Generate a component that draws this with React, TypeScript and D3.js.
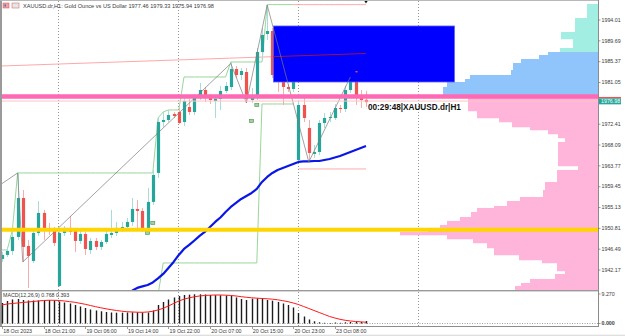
import React from 'react';
import * as d3 from 'd3';

// ---------- data (H1 XAUUSD.dr) ----------
const candleOpen = [1944.47,1945.30,1946.13,1949.03,1957.11,1947.16,1944.05,1949.86,1954.01,1950.69,1950.48,1938.87,1949.86,1950.90,1950.27,1948.20,1949.65,1946.33,1948.20,1946.96,1947.99,1949.44,1949.86,1950.69,1951.10,1952.14,1954.83,1954.42,1950.48,1956.29,1962.30,1972.87,1973.28,1974.53,1974.94,1972.87,1975.98,1974.94,1978.05,1979.50,1977.84,1977.22,1977.64,1979.30,1980.12,1983.86,1982.61,1983.23,1977.43,1978.05,1987.38,1991.11,1991.73,1983.03,1982.61,1980.12,1979.71,1964.99,1976.39,1971.63,1966.24,1966.65,1972.66,1973.70,1973.70,1975.77,1975.56,1979.50,1981.58,1977.84,1977.46];
const candleHigh = [1945.92,1946.96,1950.48,1962.30,1958.77,1948.41,1950.48,1956.49,1954.63,1951.93,1951.10,1950.27,1951.31,1953.38,1950.69,1950.27,1950.07,1948.82,1948.82,1948.41,1950.90,1954.63,1952.14,1952.14,1952.97,1957.11,1956.70,1955.04,1959.19,1962.92,1973.70,1974.94,1975.36,1974.94,1975.77,1978.47,1977.64,1978.67,1980.95,1980.12,1978.67,1978.47,1980.33,1981.16,1985.31,1984.48,1984.06,1984.06,1979.92,1988.21,1992.36,1996.92,1992.36,1983.65,1983.23,1980.75,1982.20,1977.43,1978.05,1973.28,1968.10,1973.28,1974.74,1974.94,1976.60,1976.39,1980.33,1982.20,1983.44,1979.50,1979.33];
const candleLow = [1943.85,1944.88,1945.30,1948.41,1943.85,1938.46,1943.64,1949.24,1948.41,1949.44,1947.16,1938.66,1949.24,1949.44,1945.92,1947.58,1945.30,1945.51,1946.33,1946.33,1947.58,1948.82,1949.24,1950.07,1950.69,1951.31,1950.48,1950.07,1950.07,1955.66,1961.26,1971.83,1972.87,1973.70,1972.45,1972.04,1974.32,1974.32,1977.43,1977.02,1976.60,1973.70,1975.36,1978.88,1979.50,1981.99,1981.58,1976.81,1976.81,1977.43,1986.14,1989.87,1981.99,1979.09,1976.39,1979.09,1979.09,1964.58,1972.87,1964.58,1965.41,1966.03,1971.63,1972.87,1973.28,1974.74,1974.94,1978.88,1976.39,1975.77,1975.94];
const candleClose = [1945.30,1946.13,1949.03,1957.11,1946.96,1945.09,1949.86,1954.01,1950.48,1950.27,1947.79,1949.86,1950.90,1950.07,1948.20,1949.65,1946.54,1948.20,1946.96,1947.99,1949.65,1949.86,1950.90,1951.10,1952.14,1954.83,1954.42,1950.48,1956.29,1961.88,1972.87,1973.28,1974.32,1974.11,1972.66,1977.22,1974.94,1978.05,1979.50,1978.05,1977.43,1977.64,1979.30,1980.33,1983.86,1982.61,1983.44,1977.64,1978.26,1987.38,1990.90,1991.73,1982.61,1982.61,1980.12,1979.71,1981.58,1976.39,1973.70,1966.44,1966.65,1972.66,1973.70,1973.91,1975.77,1975.56,1979.50,1981.58,1977.84,1977.43,1976.98];

// moving average (starts at bar 25)
const maStart = 25;
const maValues = [1937.9,1938.46,1938.77,1939.08,1939.60,1940.43,1941.36,1942.60,1943.85,1945.30,1946.54,1947.37,1948.30,1949.24,1950.07,1951.10,1952.14,1953.07,1954.21,1955.25,1956.08,1956.91,1957.53,1958.15,1958.98,1960.43,1961.47,1962.30,1962.92,1963.33,1963.75,1964.16,1964.58,1964.68,1964.68,1964.78,1964.78,1964.99,1965.20,1965.51,1965.82,1966.24,1966.65,1967.06,1967.48,1967.89];

// channel lines
const upperChannel = [1946.33,1946.33,1950.48,1962.30,1962.30,1962.30,1962.30,1962.30,1962.30,1962.30,1962.30,1962.30,1962.30,1962.30,1962.30,1962.30,1962.30,1962.30,1962.30,1962.30,1962.30,1962.30,1962.30,1962.30,1962.30,1962.30,1962.30,1962.30,1962.30,1962.30,1973.70,1974.94,1975.36,1975.36,1975.36,1982.20,1982.20,1982.20,1982.20,1982.20,1982.20,1982.20,1982.20,1982.20,1985.31,1985.31,1985.31,1985.31,1985.31,1985.31,1985.31,1997.20,1997.20,1997.20,1997.20,1997.20,1997.20,1997.20,1997.20,1997.20,1997.20,1997.20,1997.20,1997.20,1997.20,1997.20,1997.20,1997.20,1997.20,1997.20,1997.20];
const lowerChannel: (number | null)[] = [null,null,null,null,null,null,null,null,null,null,null,null,null,null,null,null,null,null,null,null,null,null,null,null,null,null,null,null,null,null,1937.0,1943.64,1943.64,1943.64,1943.64,1943.64,1943.64,1943.64,1943.64,1943.64,1943.64,1943.64,1943.64,1943.64,1943.64,1943.64,1943.64,1943.64,1943.64,1943.64,1976.60,1976.60,1976.60,1976.60,1976.60,1976.60,1976.60,1963.13,1963.13,1963.13,1963.13,1963.13,1963.13,1963.13,1963.13,1963.13,1963.13,1963.13,1963.13,1963.13,1963.13];
const channelSwitchBar = 56;

// zigzag pivots [bar, price]
const zigzagBars = [-0.4, 3, 4, 44, 47, 51, 59, 67];
const zigzagPrices = [1959.8, 1962.30, 1943.85, 1985.0, 1976.81, 1997.12, 1964.58, 1982.20];

// trend line
const trendBars = [0, 70];
const trendPrices = [1984.48, 1987.07];

// fractal markers
const markerBars = [28, 29, 48, 49];
const markerPrices = [1949.86, 1951.93, 1973.08, 1976.39];

// zone rectangle
const zoneBars = [52.2, 87];
const zonePrices = [1992.77, 1981.16];

// horizontal levels
const pinkLevel = 1978.16;
const bidLevel = 1977.2;
const yellowLevel = 1950.54;

// volume profile: bin top price, volume, zone
const profileTop = [1997.33,1994.43,1991.53,1990.08,1988.21,1987.38,1986.76,1985.93,1985.10,1983.65,1982.61,1981.78,1981.16,1980.12,1978.05,1975.15,1973.70,1972.87,1971.83,1971.21,1970.38,1969.55,1968.72,1963.75,1962.92,1960.43,1958.77,1957.32,1956.49,1955.46,1955.04,1954.21,1953.17,1952.35,1951.52,1950.90,1950.07,1949.44,1948.61,1947.79,1946.75,1945.30,1944.26,1943.64,1941.98,1941.36,1940.32,1939.49,1938.87];
const profileVolume = [11,23,37,25,38,50,59,77,85,87,128,133,151,155,130,121,99,86,68,50,40,33,40,20,41,53,55,78,91,104,121,127,138,151,158,170,198,151,125,111,104,79,56,41,33,43,68,77,83];
const profileZone = ['a','a','a','a','a','b','b','b','b','b','b','b','b','b','p','p','p','p','p','p','p','p','p','p','p','p','p','p','p','p','p','p','p','p','p','p','p','p','p','p','p','p','p','p','p','p','p','p','p'];
const profileBottom = 1938.03;

// MACD
const macdMain = [6.45,7.08,7.55,7.70,7.39,7.23,7.23,7.23,7.39,7.39,7.23,6.92,6.60,6.29,5.82,5.35,4.87,4.40,4.09,3.84,3.62,3.46,3.40,3.40,3.46,3.52,3.52,3.46,3.46,4.09,5.82,6.76,7.55,8.18,8.65,8.96,9.06,9.18,9.18,9.12,8.96,8.90,8.87,8.81,8.65,8.18,7.70,7.39,7.80,7.92,7.70,7.39,7.17,6.76,6.29,5.82,5.03,3.30,2.20,1.26,0.69,0.38,0.22,0.16,0.31,0.22,0.38,0.47,0.53,0.47,0.768];
const macdSignal = [5.82,6.13,6.29,6.45,6.60,6.76,6.92,7.08,7.23,7.30,7.30,7.23,7.08,6.86,6.67,6.35,6.04,5.66,5.28,4.94,4.62,4.34,4.09,3.87,3.71,3.62,3.55,3.52,3.62,3.84,4.25,4.78,5.50,6.29,7.08,7.64,8.08,8.40,8.65,8.81,8.90,8.96,8.96,8.90,8.81,8.65,8.43,8.24,8.08,7.96,7.86,7.77,7.64,7.45,7.17,6.86,6.45,5.97,5.35,4.72,4.09,3.46,2.83,2.20,1.73,1.32,1.01,0.79,0.63,0.53,0.393];

// axis labels
const priceTicks = [1994.01,1989.69,1985.37,1981.05,1972.41,1968.09,1963.77,1959.45,1955.13,1950.81,1946.49,1942.17];
const timeTickBars = [0, 8, 16, 24, 32, 40, 48, 56, 64];
const timeTickLabels = ['18 Oct 2023','18 Oct 21:00','19 Oct 06:00','19 Oct 14:00','19 Oct 22:00','20 Oct 07:00','20 Oct 15:00','20 Oct 23:00','23 Oct 08:00'];
const macdTicks = [9.27, 0];
const macdTickLabels = ['9.270', '0.000'];

const titleText = 'XAUUSD.dr,H1: Gold Ounce vs US Dollar  1977.46 1979.33 1975.94 1976.98';
const macdTitle = 'MACD(12,26,9) 0.768 0.393';
const timerText = '00:29:48|XAUUSD.dr|H1';

// ---------- styles ----------
const W = 625, H = 336;
const PLOT_L = 2, PLOT_R = 598, MAIN_B = 290;
const UP = '#26a69a', DOWN = '#ef5350', UP_W = '#a8dcd6', DOWN_W = '#f6adad';
const FONT = '"Liberation Sans", Arial, sans-serif';
const TXT = '#3a3a3a';
const SMALL = 5.3;
const zoneColor: Record<string, string> = { a: '#a3eee2', b: '#8fc5fa', p: '#ffb5da' };

export default function App() {
  const x = d3.scaleLinear().domain([0, 70]).range([2, 366]);
  const y = d3.scaleLinear().domain([1998.16, 1938.03]).range([0, MAIN_B]);
  const ym = d3.scaleLinear().domain([0, 9.27]).range([323.5, 294]);
  const vx = d3.scaleLinear().domain([0, 100]).range([0, 100]);

  const line = d3.line<[number, number]>().x(d => x(d[0])).y(d => y(d[1]));
  const lineDef = d3
    .line<[number, number | null]>()
    .defined(d => d[1] !== null)
    .x(d => x(d[0]))
    .y(d => y(d[1] as number));

  const bars = candleOpen.map((o, i) => ({ i, o, h: candleHigh[i], l: candleLow[i], c: candleClose[i] }));
  const maPts: [number, number][] = maValues.map((v, k) => [maStart + k, v]);
  const upPts: [number, number][] = upperChannel.map((v, i) => [i, v]);
  const upGreen = upPts.filter(d => d[0] <= channelSwitchBar);
  const upRed = upPts.filter(d => d[0] >= channelSwitchBar);
  const loPts: [number, number | null][] = lowerChannel.map((v, i) => [i, v]);
  const loGreen = loPts.filter(d => d[0] <= channelSwitchBar);
  const loRed = loPts.filter(d => d[0] > channelSwitchBar);
  const zz: [number, number][] = zigzagBars.map((b, i) => [b, zigzagPrices[i]]);
  const tl: [number, number][] = trendBars.map((b, i) => [b, trendPrices[i]]);

  const zx0 = x(zoneBars[0]), zx1 = x(zoneBars[1]);
  const zy0 = y(zonePrices[0]), zy1 = y(zonePrices[1]);

  const gridX = [58, 178, 298, 418];
  const lastClose = candleClose[candleClose.length - 1];
  const lastHigh = candleHigh[68];

  const macdLine = d3.line<number>().x((_, i) => x(i)).y(v => ym(v)).curve(d3.curveMonotoneX);

  return (
    <svg width={W} height={H} style={{ position: 'fixed', left: 0, top: 0, background: '#fff' }} xmlns="http://www.w3.org/2000/svg">
      <defs>
        <clipPath id="main"><rect x={PLOT_L} y={0} width={PLOT_R - PLOT_L} height={MAIN_B} /></clipPath>
        <clipPath id="zone"><rect x={zx0} y={zy0} width={zx1 - zx0} height={zy1 - zy0} /></clipPath>
      </defs>
      <rect x={0} y={0} width={W} height={H} fill="#fff" />

      {/* grid */}
      {gridX.map(gx => (
        <line key={gx} x1={gx + 0.5} x2={gx + 0.5} y1={1} y2={326} stroke="#7a7a7a" strokeWidth={0.8} strokeDasharray="1,2" />
      ))}

      <g clipPath="url(#main)">
        {/* volume profile */}
        {profileTop.map((t, i) => {
          const b = i < profileTop.length - 1 ? profileTop[i + 1] : profileBottom;
          const w = vx(profileVolume[i]);
          return <rect key={i} x={PLOT_R - w} y={y(t)} width={w} height={y(b) - y(t) + 0.3} fill={zoneColor[profileZone[i]]} />;
        })}

        {/* trend line (light) */}
        <path d={line(tl) || ''} fill="none" stroke="#ff9e9e" strokeWidth={0.9} />

        {/* channel lines */}
        <path d={line(upGreen) || ''} fill="none" stroke="#8fd08f" strokeWidth={0.9} />
        <path d={line(upRed) || ''} fill="none" stroke="#ff9e9e" strokeWidth={0.9} />
        <path d={lineDef(loGreen) || ''} fill="none" stroke="#8fd08f" strokeWidth={0.9} />
        <path d={lineDef(loRed) || ''} fill="none" stroke="#ffa0a0" strokeWidth={0.9} />

        {/* candles */}
        {bars.map(b => {
          const cx = Math.round(x(b.i)) + 0.5;
          const upc = b.c >= b.o;
          const top = y(Math.max(b.o, b.c));
          const bot = y(Math.min(b.o, b.c));
          return (
            <g key={b.i}>
              <line x1={cx} x2={cx} y1={y(b.h)} y2={y(b.l)} stroke={upc ? UP_W : DOWN_W} strokeWidth={1} />
              <rect x={cx - 1.6} y={top} width={3.2} height={Math.max(1, bot - top)} fill={upc ? UP : DOWN} />
            </g>
          );
        })}

        {/* zone rectangle */}
        <rect x={zx0} y={zy0} width={zx1 - zx0} height={zy1 - zy0} fill="#0000ff" stroke="#5b5bff" strokeWidth={0.8} />
        <path d={line(tl) || ''} fill="none" stroke="#a0104a" strokeWidth={1} clipPath="url(#zone)" />
        <rect x={Math.round(x(68)) - 0.5} y={y(lastHigh)} width={2} height={1.4} fill="#ef5350" />

        {/* moving average */}
        <path d={line(maPts) || ''} fill="none" stroke="#0a16e6" strokeWidth={2.2} strokeLinejoin="round" />

        {/* zigzag */}
        <path d={line(zz) || ''} fill="none" stroke="#7a7a7a" strokeWidth={0.7} />

        {/* fractal markers */}
        {markerBars.map((mb, i) => (
          <rect key={i} x={x(mb) - 2} y={y(markerPrices[i]) - 1.5} width={4} height={3} fill="#9fd09f" stroke="#4d8f4d" strokeWidth={0.6} />
        ))}

        {/* horizontal levels */}
        <line x1={PLOT_L} x2={PLOT_R} y1={y(bidLevel)} y2={y(bidLevel)} stroke="#ffc4c4" strokeWidth={1} />
        <line x1={PLOT_L} x2={PLOT_R} y1={y(pinkLevel)} y2={y(pinkLevel)} stroke="#ff69b4" strokeWidth={4.6} />
        <line x1={PLOT_L} x2={PLOT_R} y1={y(yellowLevel)} y2={y(yellowLevel)} stroke="#ffd500" strokeWidth={4} />
      </g>

      {/* high marker */}
      <path d={`M${x(70) - 1.6},1 L${x(70) + 1.6},1 L${x(70)},3.6 Z`} fill="#111" />

      {/* timer text */}
      <text x={368} y={110} fontFamily={FONT} fontSize={8.2} fontWeight="bold" fill="#111">{timerText}</text>

      {/* title */}
      <rect x={3} y={3} width={6} height={5} fill="#f4a0a0" stroke="#d05050" strokeWidth={0.5} />
      <rect x={4.5} y={4.5} width={1.5} height={2} fill="#3b6fd0" />
      <rect x={12} y={3} width={7} height={5} fill="#e6e6e6" stroke="#c06060" strokeWidth={0.5} />
      <text x={23} y={8} fontFamily={FONT} fontSize={5.6} fill={TXT}>{titleText}</text>

      {/* frame */}
      <rect x={0} y={0} width={2} height={326} fill="#9a9a9a" />
      <rect x={0} y={0} width={PLOT_R} height={0.9} fill="#b0b0b0" />
      <rect x={0} y={MAIN_B} width={PLOT_R + 1} height={1.4} fill="#9a9a9a" />
      <line x1={PLOT_R + 0.5} x2={PLOT_R + 0.5} y1={0} y2={327} stroke="#8c8c8c" strokeWidth={1} />

      {/* price axis */}
      {priceTicks.map(p => (
        <g key={p}>
          <line x1={PLOT_R} x2={PLOT_R + 2.5} y1={y(p)} y2={y(p)} stroke="#777" strokeWidth={0.7} />
          <text x={PLOT_R + 3.5} y={y(p) + 1.8} fontFamily={FONT} fontSize={SMALL} fill={TXT}>{p.toFixed(2)}</text>
        </g>
      ))}
      <rect x={PLOT_R + 1} y={y(lastClose) - 5.2} width={22} height={1.4} fill="#ef5350" />
      <rect x={PLOT_R + 1} y={y(lastClose) - 3.8} width={22} height={6} fill="#26a69a" />
      <text x={PLOT_R + 3} y={y(lastClose) + 0.9} fontFamily={FONT} fontSize={SMALL} fill="#fff">{lastClose.toFixed(2)}</text>

      {/* MACD pane */}
      <text x={3} y={297} fontFamily={FONT} fontSize={SMALL} fill={TXT}>{macdTitle}</text>
      <line x1={PLOT_L} x2={PLOT_R} y1={ym(0)} y2={ym(0)} stroke="#777" strokeWidth={0.7} strokeDasharray="1,1.5" />
      {macdMain.map((v, i) => (
        <rect key={i} x={Math.round(x(i)) - 0.2} y={ym(v)} width={1.4} height={ym(0) - ym(v)} fill="#1c1c1c" />
      ))}
      <path d={macdLine(macdSignal) || ''} fill="none" stroke="#ff1a1a" strokeWidth={1} />
      {macdTicks.map((t, i) => (
        <g key={t}>
          <line x1={PLOT_R} x2={PLOT_R + 2.5} y1={ym(t)} y2={ym(t)} stroke="#777" strokeWidth={0.7} />
          <text x={PLOT_R + 3.5} y={ym(t) + 1.8} fontFamily={FONT} fontSize={SMALL} fill={TXT} fontWeight={i === 1 ? 'bold' : 'normal'}>{macdTickLabels[i]}</text>
        </g>
      ))}
      <rect x={0} y={326} width={PLOT_R + 1} height={1} fill="#8c8c8c" />

      {/* time axis */}
      {timeTickBars.map((b, i) => (
        <g key={b}>
          <line x1={Math.round(x(b)) + 0.5} x2={Math.round(x(b)) + 0.5} y1={327} y2={329} stroke="#777" strokeWidth={0.7} />
          <text x={x(b) + 1.2} y={332.8} fontFamily={FONT} fontSize={SMALL} fill={TXT}>{timeTickLabels[i]}</text>
        </g>
      ))}
      <rect x={0} y={334.8} width={W} height={0.8} fill="#c8c8c8" />
    </svg>
  );
}
